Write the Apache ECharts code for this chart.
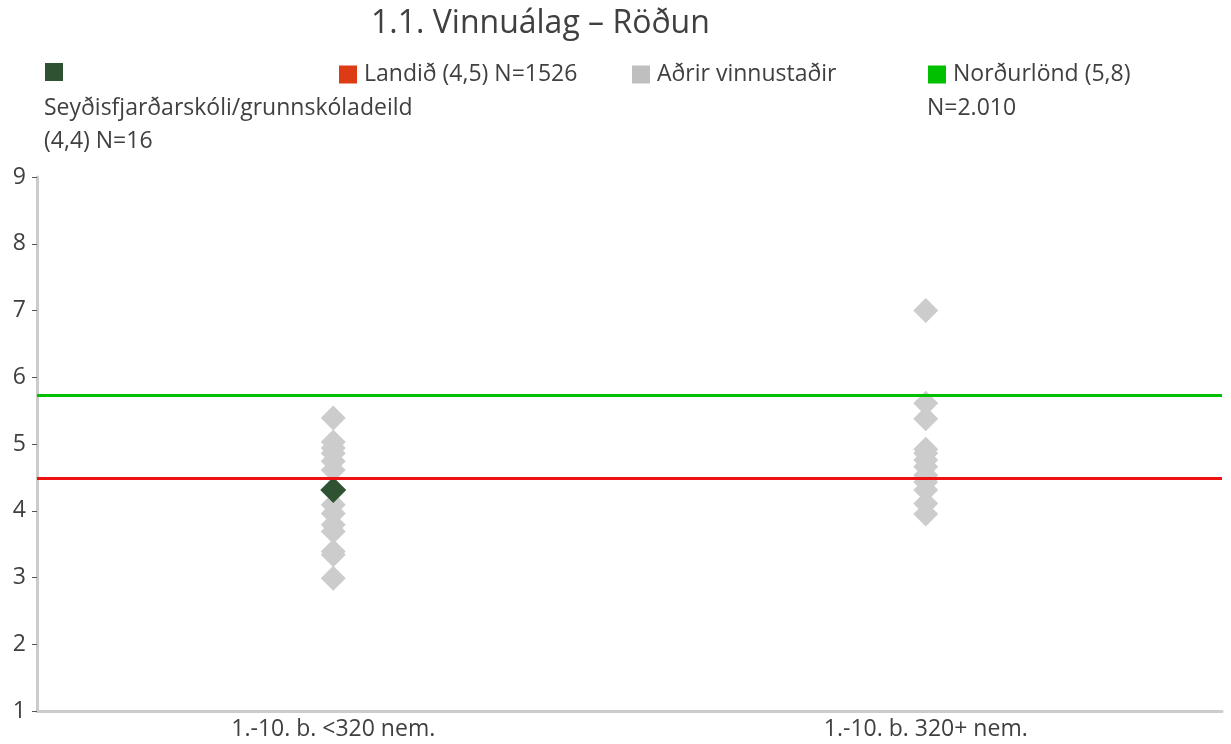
<!DOCTYPE html>
<html>
<head>
<meta charset="utf-8">
<script src="https://cdn.jsdelivr.net/npm/echarts@6/dist/echarts.min.js"></script>
<style>
	html, body { margin: 0; padding: 0; background: #fff; }
	#chart { width: 1231px; height: 744px; }
</style>
</head>
<body>
<div id="chart"></div>
<script>
var categories = ['1.-10. b. <320 nem.', '1.-10. b. 320+ nem.'];
var yTicks = [1, 2, 3, 4, 5, 6, 7, 8, 9];
// Aðrir vinnustaðir
var adrirSmall = [5.39, 5.03, 4.94, 4.86, 4.74, 4.61, 4.09, 3.96, 3.79, 3.69, 3.39, 3.34, 2.99];
var adrirLarge = [7.0, 5.61, 5.38, 4.92, 4.86, 4.76, 4.66, 4.53, 4.43, 4.31, 4.11, 3.95];
var seydis = [4.31];
var landid = 4.49;
var nordurlond = 5.73;

var names = ['Seyðisfjarðarskóli/grunnskóladeild (4,4) N=16', 'Landið (4,5) N=1526', 'Aðrir vinnustaðir', 'Norðurlönd (5,8) N=2.010'];

var grayData = [];
adrirSmall.forEach(function(v) { grayData.push([categories[0], v]); });
adrirLarge.forEach(function(v) { grayData.push([categories[1], v]); });

var font = 'Open Sans';
var txtColor = '#404040';
var fs = 23;

var myChart = echarts.init(document.getElementById('chart'));

function oneLegend(name, left, color, fmt) {
	return {
		data: [{ name: name, icon: 'rect', itemStyle: { color: color, opacity: 1, borderWidth: 0 } }],
		left: left,
		top: 58,
		itemWidth: 18,
		itemHeight: 18,
		itemGap: 0,
		selectedMode: false,
		formatter: fmt,
		textStyle: { color: txtColor, fontSize: fs, fontFamily: font, padding: [0, 0, 0, 2] }
	};
}

var option = {
	animation: false,
	title: {
		text: '1.1. Vinnuálag – Röðun',
		left: 366,
		top: 3,
		textStyle: { color: txtColor, fontSize: 32, fontWeight: 'normal', fontFamily: font }
	},
	legend: [
		oneLegend(names[0], 40, '#2f5233', function() { return ''; }),
		oneLegend(names[1], 334, '#dd3b14', function() { return 'Landið (4,5) N=1526'; }),
		oneLegend(names[2], 627, '#bfbfbf', function() { return 'Aðrir vinnustaðir'; }),
		oneLegend(names[3], 923, '#00c000', function() { return 'Norðurlönd (5,8)'; })
	],
	graphic: [
		{ type: 'text', left: 44, top: 97, style: { text: 'Seyðisfjarðarskóli/grunnskóladeild', fill: txtColor, fontSize: fs, fontFamily: font } },
		{ type: 'text', left: 44, top: 130, style: { text: '(4,4) N=16', fill: txtColor, fontSize: fs, fontFamily: font } },
		{ type: 'text', left: 927, top: 97, style: { text: 'N=2.010', fill: txtColor, fontSize: fs, fontFamily: font } }
	],
	grid: { left: 37, right: 9, top: 177, bottom: 33, containLabel: false },
	xAxis: {
		type: 'category',
		data: categories,
		axisLine: { lineStyle: { color: '#cccccc', width: 3 } },
		axisTick: { show: false },
		axisLabel: { color: txtColor, fontSize: fs, fontFamily: font, margin: 7 },
		splitLine: { show: false }
	},
	yAxis: {
		type: 'value',
		min: 1,
		max: 9,
		interval: 1,
		axisLine: { show: true, lineStyle: { color: '#cccccc', width: 3 } },
		axisTick: { show: true, length: 5, lineStyle: { color: '#555', width: 1 } },
		axisLabel: { color: txtColor, fontSize: fs, fontFamily: font, margin: 11,
			formatter: function(v) { return yTicks.indexOf(v) >= 0 ? String(v) : ''; } },
		splitLine: { show: false }
	},
	series: [
		{
			name: names[2],
			type: 'scatter',
			symbol: 'diamond',
			symbolSize: 25,
			itemStyle: { color: '#cccccc', opacity: 1 },
			z: 3,
			data: grayData
		},
		{
			name: names[0],
			type: 'scatter',
			symbol: 'diamond',
			symbolSize: 26,
			itemStyle: { color: '#2f5233', opacity: 1 },
			z: 4,
			data: seydis.map(function(v) { return [categories[0], v]; })
		},
		{
			name: names[1],
			type: 'scatter',
			data: [],
			z: 1,
			markLine: {
				silent: true,
				symbol: 'none',
				label: { show: false },
				lineStyle: { color: '#ee1111', width: 3, type: 'solid' },
				data: [{ yAxis: landid }]
			}
		},
		{
			name: names[3],
			type: 'scatter',
			data: [],
			z: 1,
			markLine: {
				silent: true,
				symbol: 'none',
				label: { show: false },
				lineStyle: { color: '#00c000', width: 3, type: 'solid' },
				data: [{ yAxis: nordurlond }]
			}
		}
	]
};
myChart.setOption(option);
</script>
</body>
</html>
